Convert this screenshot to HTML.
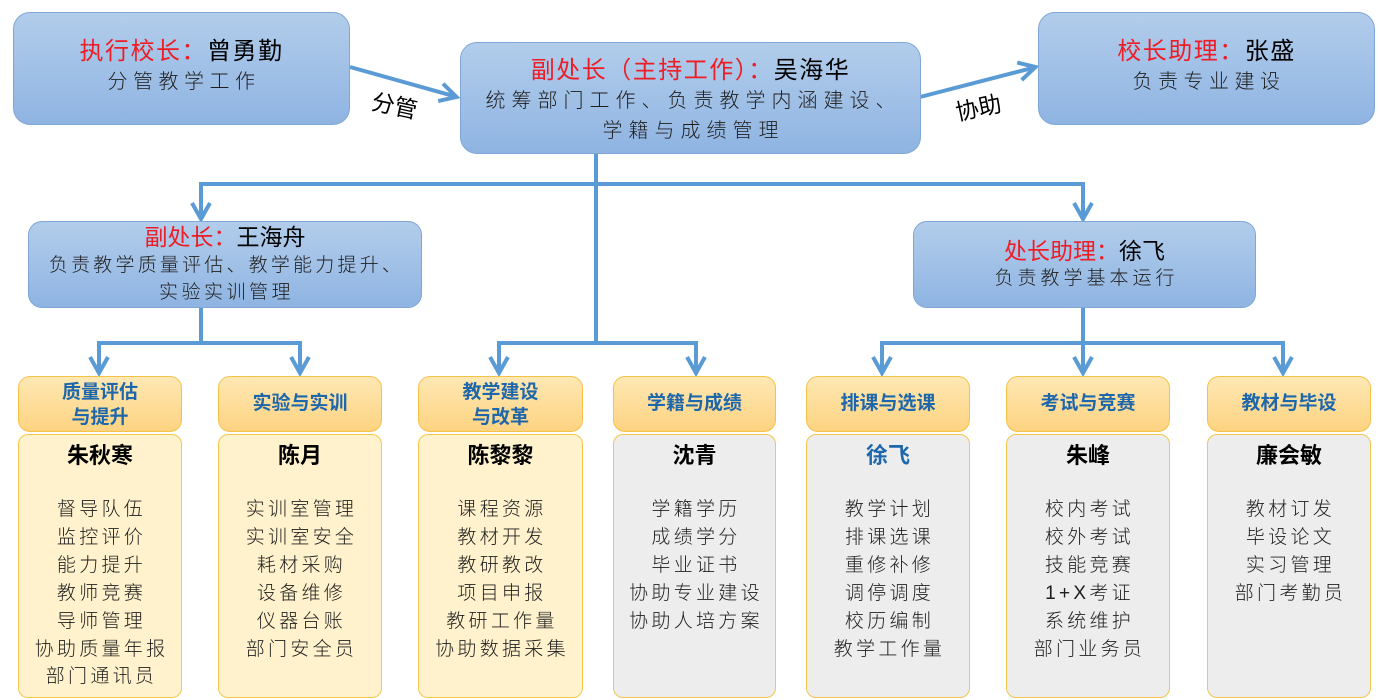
<!DOCTYPE html>
<html>
<head>
<meta charset="utf-8">
<style>
html,body{margin:0;padding:0;}
body{width:1380px;height:700px;position:relative;background:#fff;overflow:hidden;font-family:"Liberation Sans","Noto Sans CJK SC",sans-serif;}
.bx{position:absolute;box-sizing:border-box;border:1.5px solid #7ea6d6;border-radius:17px;background:linear-gradient(#b2cdeb,#8fb4e2);text-align:center;}
.t{font-size:24px;color:#000;white-space:nowrap;}
.t .r{color:#ee1c25;}
.s{color:#1e1e1e;white-space:nowrap;font-weight:300;}
.hd{position:absolute;box-sizing:border-box;border:1.5px solid #f4c247;border-radius:12px;background:linear-gradient(#fee8b4,#fdd381);text-align:center;color:#1f67ab;font-weight:bold;font-size:19px;white-space:nowrap;}
.bd{position:absolute;box-sizing:border-box;border:1.5px solid #f4c64d;border-radius:10px;text-align:center;}
.y{background:#fff2cc;}
.g{background:#ededed;}
.nm{font-weight:bold;font-size:22px;color:#000;line-height:28px;margin-top:7px;height:54px;}
.it{font-size:19px;letter-spacing:3.3px;color:#1e1e1e;line-height:27.9px;font-weight:300;white-space:nowrap;padding-left:3px;}
.lbl{position:absolute;font-size:23px;color:#000;white-space:nowrap;}
</style>
</head>
<body>
<svg width="1380" height="700" style="position:absolute;left:0;top:0" fill="none" stroke="#5b9bd5" stroke-width="4" stroke-linejoin="miter">
  <path d="M350 67 L456 96.7"/>
  <polyline points="443,83.7 456.5,97 438.2,101.1"/>
  <path d="M920 97 L1035 67.3"/>
  <polyline points="1017.2,62.6 1035.5,67 1021.7,80"/>
  <path d="M596 153 V343"/>
  <path d="M201 218 V184 H1083 V218"/>
  <polyline points="192,203 201,219 210,203"/>
  <polyline points="1074,203 1083,219 1092,203"/>
  <path d="M201 307 V343"/>
  <path d="M99 372 V343 H300 V372"/>
  <polyline points="90,357 99,373 108,357"/>
  <polyline points="291,357 300,373 309,357"/>
  <path d="M499 372 V343 H696 V372"/>
  <polyline points="490,357 499,373 508,357"/>
  <polyline points="687,357 696,373 705,357"/>
  <path d="M1083 307 V372"/>
  <path d="M882 372 V343 H1283 V372"/>
  <polyline points="873,357 882,373 891,357"/>
  <polyline points="1074,357 1083,373 1092,357"/>
  <polyline points="1274,357 1283,373 1292,357"/>
</svg>

<div class="lbl" style="left:372px;top:87px;transform:rotate(12deg);">分管</div>
<div class="lbl" style="left:955px;top:89px;transform:rotate(-12deg);">协助</div>

<div class="bx" style="left:13px;top:12px;width:337px;height:113px;padding-top:24px;">
  <div class="t" style="line-height:30px;letter-spacing:1.5px;"><span class="r">执行校长：</span>曾勇勤</div>
  <div class="s" style="line-height:30px;font-size:20px;letter-spacing:5.5px;padding-left:5px;">分管教学工作</div>
</div>

<div class="bx" style="left:460px;top:42px;width:461px;height:112px;padding-top:13px;">
  <div class="t" style="line-height:30px;letter-spacing:1.5px;"><span class="r">副处长（主持工作）：</span>吴海华</div>
  <div class="s" style="line-height:30px;font-size:20px;letter-spacing:6px;padding-left:6px;">统筹部门工作、负责教学内涵建设、</div>
  <div class="s" style="line-height:30px;font-size:20px;letter-spacing:6px;padding-left:6px;">学籍与成绩管理</div>
</div>

<div class="bx" style="left:1038px;top:12px;width:337px;height:113px;padding-top:24px;">
  <div class="t" style="line-height:30px;letter-spacing:1.5px;"><span class="r">校长助理：</span>张盛</div>
  <div class="s" style="line-height:30px;font-size:20px;letter-spacing:5.5px;padding-left:5px;">负责专业建设</div>
</div>

<div class="bx" style="left:28px;top:221px;width:394px;height:87px;padding-top:2px;border-radius:14px;">
  <div class="t" style="line-height:27.5px;font-size:23px;"><span class="r">副处长：</span>王海舟</div>
  <div class="s" style="line-height:27.5px;font-size:19px;letter-spacing:3.2px;padding-left:3px;">负责教学质量评估、教学能力提升、</div>
  <div class="s" style="line-height:27.5px;font-size:19px;letter-spacing:3.5px;padding-left:3px;">实验实训管理</div>
</div>

<div class="bx" style="left:913px;top:221px;width:343px;height:87px;padding-top:16px;border-radius:14px;">
  <div class="t" style="line-height:27px;font-size:23px;"><span class="r">处长助理：</span>徐飞</div>
  <div class="s" style="line-height:27px;font-size:19px;letter-spacing:4px;padding-left:4px;">负责教学基本运行</div>
</div>

<!-- headers -->
<div class="hd" style="left:18px;top:376px;width:164px;height:56px;padding-top:3px;line-height:25px;">质量评估<br>与提升</div>
<div class="hd" style="left:218px;top:376px;width:164px;height:56px;line-height:53px;">实验与实训</div>
<div class="hd" style="left:418px;top:376px;width:165px;height:56px;padding-top:3px;line-height:25px;">教学建设<br>与改革</div>
<div class="hd" style="left:613px;top:376px;width:163px;height:56px;line-height:53px;">学籍与成绩</div>
<div class="hd" style="left:806px;top:376px;width:164px;height:56px;line-height:53px;">排课与选课</div>
<div class="hd" style="left:1006px;top:376px;width:164px;height:56px;line-height:53px;">考试与竞赛</div>
<div class="hd" style="left:1207px;top:376px;width:164px;height:56px;line-height:53px;">教材与毕设</div>

<!-- bodies -->
<div class="bd y" style="left:18px;top:434px;width:164px;height:264px;">
  <div class="nm">朱秋寒</div>
  <div class="it">督导队伍<br>监控评价<br>能力提升<br>教师竞赛<br>导师管理<br>协助质量年报<br>部门通讯员</div>
</div>
<div class="bd y" style="left:218px;top:434px;width:164px;height:264px;">
  <div class="nm">陈月</div>
  <div class="it">实训室管理<br>实训室安全<br>耗材采购<br>设备维修<br>仪器台账<br>部门安全员</div>
</div>
<div class="bd y" style="left:418px;top:434px;width:165px;height:264px;">
  <div class="nm">陈黎黎</div>
  <div class="it">课程资源<br>教材开发<br>教研教改<br>项目申报<br>教研工作量<br>协助数据采集</div>
</div>
<div class="bd g" style="left:613px;top:434px;width:163px;height:264px;">
  <div class="nm">沈青</div>
  <div class="it">学籍学历<br>成绩学分<br>毕业证书<br>协助专业建设<br>协助人培方案</div>
</div>
<div class="bd g" style="left:806px;top:434px;width:164px;height:264px;">
  <div class="nm" style="color:#1f67ab;">徐飞</div>
  <div class="it">教学计划<br>排课选课<br>重修补修<br>调停调度<br>校历编制<br>教学工作量</div>
</div>
<div class="bd g" style="left:1006px;top:434px;width:164px;height:264px;">
  <div class="nm">朱峰</div>
  <div class="it">校内考试<br>校外考试<br>技能竞赛<br>1+X考证<br>系统维护<br>部门业务员</div>
</div>
<div class="bd g" style="left:1207px;top:434px;width:164px;height:264px;">
  <div class="nm">廉会敏</div>
  <div class="it">教材订发<br>毕设论文<br>实习管理<br>部门考勤员</div>
</div>
</body>
</html>
